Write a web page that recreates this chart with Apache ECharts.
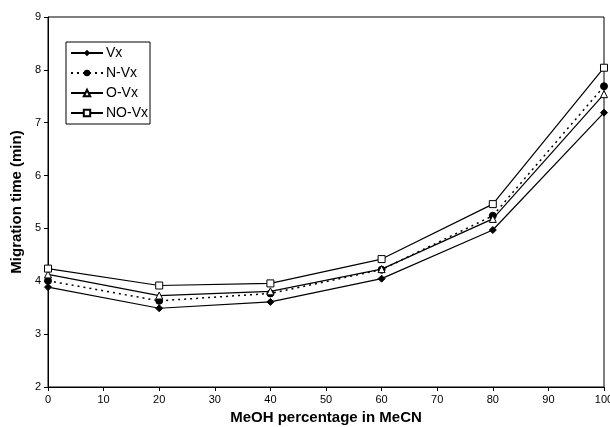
<!DOCTYPE html>
<html>
<head>
<meta charset="utf-8">
<script src="https://cdn.jsdelivr.net/npm/echarts@6/dist/echarts.min.js"></script>
<style>
    html, body {margin: 0; padding: 0; background: #fff;}
    #chart {width: 610px; height: 427px;}
</style>
</head>
<body>
<div id="chart"></div>
<script>
// MeOH percentage in MeCN
var meohPct = [0, 20, 40, 60, 80, 100];
// migration times (min)
var vx = [3.89, 3.49, 3.61, 4.05, 4.97, 7.19];
var nVx = [4.01, 3.63, 3.77, 4.22, 5.24, 7.69];
var oVx = [4.13, 3.73, 3.81, 4.23, 5.18, 7.54];
var noVx = [4.24, 3.92, 3.96, 4.42, 5.46, 8.04];

function pairs(ys) {
    var out = [];
    for (var i = 0; i < meohPct.length; i++) {
        out.push([meohPct[i], ys[i]]);
    }
    return out;
}

var chart = echarts.init(document.getElementById('chart'));
var font = 'Liberation Sans, Arial, sans-serif';

var option = {
    animation: false,
    grid: {
        left: 48,
        right: 6,
        top: 17,
        bottom: 40,
        outerBoundsMode: 'none',
        containLabel: false,
        show: true,
        borderColor: '#000',
        borderWidth: 1
    },
    legend: {
        orient: 'vertical',
        left: 66,
        top: 42,
        padding: [4, 2, 4, 4],
        itemWidth: 32,
        itemHeight: 8,
        itemGap: 6,
        borderColor: '#000',
        borderWidth: 1,
        textStyle: {fontFamily: font, fontSize: 14, color: '#000', padding: [0, 0, 0, -2]},
        data: ['Vx', 'N-Vx', 'O-Vx', 'NO-Vx']
    },
    xAxis: {
        type: 'value',
        min: 0,
        max: 100,
        interval: 10,
        name: 'MeOH percentage in MeCN',
        nameLocation: 'middle',
        nameGap: 23,
        nameTextStyle: {fontFamily: font, fontSize: 15, fontWeight: 'bold', color: '#000'},
        axisLine: {lineStyle: {color: '#000', width: 1}},
        axisTick: {length: 4, lineStyle: {color: '#000'}},
        axisLabel: {fontFamily: font, fontSize: 11, color: '#000', margin: 7},
        splitLine: {show: false}
    },
    yAxis: {
        type: 'value',
        min: 2,
        max: 9,
        interval: 1,
        name: 'Migration time (min)',
        nameLocation: 'middle',
        nameGap: 23,
        nameTextStyle: {fontFamily: font, fontSize: 15, fontWeight: 'bold', color: '#000'},
        axisLine: {lineStyle: {color: '#000', width: 1}},
        axisTick: {length: 4, lineStyle: {color: '#000'}},
        axisLabel: {fontFamily: font, fontSize: 11, color: '#000', margin: 7},
        splitLine: {show: false}
    },
    series: [{
        name: 'Vx',
        type: 'line',
        data: pairs(vx),
        symbol: 'diamond',
        symbolSize: 7,
        lineStyle: {color: '#000', width: 1.2},
        itemStyle: {color: '#000', borderColor: '#000'}
    }, {
        name: 'N-Vx',
        type: 'line',
        data: pairs(nVx),
        symbol: 'circle',
        symbolSize: 7,
        lineStyle: {color: '#000', width: 1.5, type: [2, 4]},
        itemStyle: {color: '#000', borderColor: '#000'}
    }, {
        name: 'O-Vx',
        type: 'line',
        data: pairs(oVx),
        symbol: 'triangle',
        symbolSize: 7,
        lineStyle: {color: '#000', width: 1.2},
        itemStyle: {color: '#fff', borderColor: '#000', borderWidth: 1}
    }, {
        name: 'NO-Vx',
        type: 'line',
        data: pairs(noVx),
        symbol: 'rect',
        symbolSize: 7,
        lineStyle: {color: '#000', width: 1.2},
        itemStyle: {color: '#fff', borderColor: '#000', borderWidth: 1}
    }]
};

chart.setOption(option);
</script>
</body>
</html>
